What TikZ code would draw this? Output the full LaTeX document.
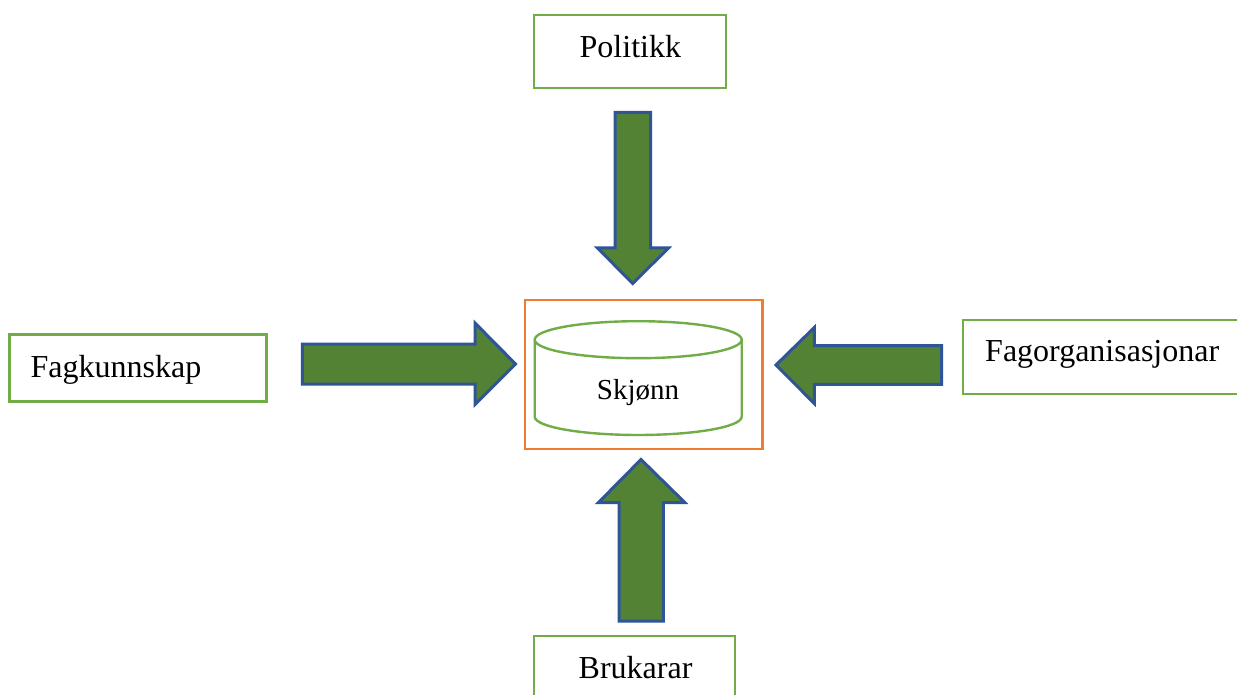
\documentclass[tikz,border=0pt]{standalone}
\usepackage{fontspec}
\setmainfont{Liberation Serif}
\definecolor{boxgreen}{HTML}{70AD47}
\definecolor{boxorange}{HTML}{ED7D31}
\definecolor{arrowfill}{HTML}{548235}
\definecolor{arrowline}{HTML}{2F5597}
\tikzset{
  labelbox/.style={draw=boxgreen,line width=2.2pt,fill=white,rectangle,inner sep=0pt,outer sep=0pt,anchor=north west},
  framebox/.style={draw=boxorange,line width=2.8pt,rectangle,inner sep=0pt,outer sep=0pt,anchor=north west},
  blockarrow/.style={draw=arrowline,fill=arrowfill,line width=3pt,miter limit=10},
  cylline/.style={draw=boxgreen,line width=2.4pt},
  bigtext/.style={inner sep=0pt,anchor=base west,text=black,font=\fontsize{32}{38}\selectfont},
  smalltext/.style={inner sep=0pt,anchor=base west,text=black,font=\fontsize{29}{35}\selectfont}
}
\begin{document}
\begin{tikzpicture}[x=1pt,y=-1pt]
\clip (0,0) rectangle (1237,695);
\fill[white] (0,0) rectangle (1237,695);
% label boxes
\node[labelbox,minimum width=191.7pt,minimum height=73.3pt] (politikkbox) at (534.3,15) {};
\node[labelbox,minimum width=257pt,minimum height=67pt] (fagkbox) at (9.5,334.5) {};
\node[labelbox,minimum width=300pt,minimum height=74pt] (fagobox) at (963.3,319.7) {};
\node[labelbox,minimum width=201pt,minimum height=90pt] (brukbox) at (534,635.7) {};
\node[bigtext] (politikk) at (579.5,57.5) {Politikk};
\node[bigtext] (fagk) at (30.5,377) {Fagkunnskap};
\node[bigtext] (fago) at (985,361) {Fagorganisasjonar};
\node[bigtext] (bruk) at (578.5,678.2) {Brukarar};
% centre
\node[framebox,minimum width=237.3pt,minimum height=149pt] (frame) at (525,300) {};
\draw[cylline] (534.7,339.7) -- (534.7,416.7)
  arc[start angle=180,end angle=360,x radius=103.5pt,y radius=18.3pt]
  -- (741.7,339.7);
\draw[cylline] (638.2,339.7) ellipse[x radius=103.5pt,y radius=18.5pt];
\node[smalltext] (skjonn) at (596.7,399) {Skjønn};
% block arrows
\draw[blockarrow] (615,112.3) -- (650.7,112.3) -- (650.7,248) -- (668.5,248) -- (632.7,283.5) -- (597.5,248) -- (615,248) -- cycle;
\draw[blockarrow] (302.3,344) -- (475,344) -- (475,323) -- (515.5,364) -- (475,404.5) -- (475,384) -- (302.3,384) -- cycle;
\draw[blockarrow] (941.7,345.7) -- (814.3,345.7) -- (814.3,327.5) -- (776,365) -- (814.3,403.5) -- (814.3,384.3) -- (941.7,384.3) -- cycle;
\draw[blockarrow] (619,621) -- (619,502.7) -- (598.3,502.7) -- (641,459.5) -- (685,502.7) -- (663.3,502.7) -- (663.3,621) -- cycle;
\end{tikzpicture}
\end{document}
